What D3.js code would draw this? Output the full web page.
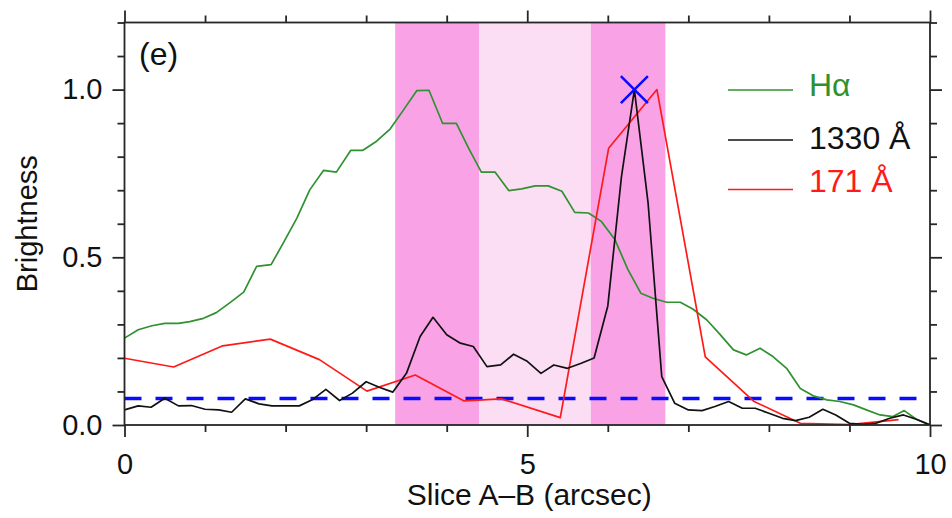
<!DOCTYPE html>
<html>
<head>
<meta charset="utf-8">
<script src="https://cdn.jsdelivr.net/npm/d3@7"></script>
<style>
  html, body { margin: 0; padding: 0; background: #fff; }
  svg { display: block; }
  text { font-family: "Liberation Sans", Arial, Helvetica, sans-serif; }
</style>
</head>
<body>
<svg id="chart" width="952" height="518"></svg>
<script>
// ---------------- data ----------------
const haX = [0.0, 0.17, 0.34, 0.50, 0.67, 0.81, 0.98, 1.14, 1.31, 1.48, 1.64, 1.82, 1.97, 2.14, 2.30, 2.47,
  2.63, 2.81, 2.96, 3.13, 3.30, 3.46, 3.63, 3.78, 3.95, 4.12, 4.27, 4.43, 4.60, 4.77, 4.93, 5.10,
  5.26, 5.43, 5.59, 5.76, 5.92, 6.09, 6.25, 6.41, 6.56, 6.73, 6.90, 7.06, 7.23, 7.39, 7.56, 7.72,
  7.89, 8.05, 8.22, 8.39, 8.55, 8.72, 8.88, 9.05, 9.21, 9.38, 9.54, 9.68, 9.83, 10.0];
const haY = [0.259, 0.284, 0.296, 0.303, 0.303, 0.308, 0.318, 0.335, 0.365, 0.396, 0.473, 0.478, 0.542, 0.617, 0.701, 0.759,
  0.754, 0.819, 0.819, 0.846, 0.883, 0.938, 0.997, 0.998, 0.899, 0.899, 0.826, 0.754, 0.754, 0.699, 0.704, 0.713,
  0.713, 0.697, 0.634, 0.632, 0.607, 0.552, 0.463, 0.393, 0.378, 0.366, 0.366, 0.345, 0.313, 0.271, 0.224, 0.209,
  0.229, 0.204, 0.169, 0.109, 0.087, 0.075, 0.070, 0.060, 0.045, 0.030, 0.025, 0.043, 0.017, 0.0];

const uvX = [0.0, 0.17, 0.33, 0.50, 0.67, 0.83, 1.00, 1.17, 1.33, 1.50, 1.67, 1.83, 2.00, 2.17, 2.33, 2.50,
  2.67, 2.83, 3.00, 3.17, 3.33, 3.50, 3.67, 3.83, 4.00, 4.17, 4.33, 4.50, 4.67, 4.83, 5.00, 5.17,
  5.33, 5.50, 5.67, 5.83, 6.00, 6.17, 6.33, 6.50, 6.67, 6.83, 7.00, 7.17, 7.33, 7.50, 7.67, 7.83,
  8.00, 8.17, 8.33, 8.50, 8.67, 8.83, 9.00, 9.17, 9.33, 9.50, 9.67, 9.83, 10.0];
const uvY = [0.045, 0.057, 0.053, 0.080, 0.057, 0.058, 0.047, 0.045, 0.038, 0.078, 0.063, 0.057, 0.057, 0.057, 0.075, 0.106,
  0.073, 0.095, 0.129, 0.112, 0.098, 0.154, 0.264, 0.321, 0.269, 0.244, 0.234, 0.174, 0.179, 0.211, 0.190, 0.154,
  0.179, 0.169, 0.184, 0.200, 0.355, 0.741, 1.000, 0.662, 0.144, 0.065, 0.045, 0.043, 0.055, 0.070, 0.050, 0.050,
  0.035, 0.020, 0.013, 0.023, 0.047, 0.030, 0.005, 0.002, 0.005, 0.020, 0.030, 0.017, 0.0];

const euvX = [0.0, 0.61, 1.22, 1.81, 2.42, 3.01, 3.61, 4.21, 4.68, 5.41, 6.01, 6.61, 7.21, 7.81, 8.39, 9.0, 9.61];
const euvY = [0.199, 0.173, 0.236, 0.256, 0.195, 0.101, 0.149, 0.072, 0.078, 0.022, 0.825, 1.0, 0.203, 0.071, 0.005, 0.001, 0.016];

const bands = [            // shaded intervals [x0, x1, kind]
  [3.36, 4.405, "dark"],
  [4.405, 5.79, "light"],
  [5.79, 6.715, "dark"]
];
const threshold = 0.079;    // dashed level
const peakMark = [6.33, 1.0];
const xMajor = [0, 5, 10];
const xMinor = [1, 2, 3, 4, 6, 7, 8, 9];
const yMajor = [0, 0.5, 1.0];
const yMinor = [0.1, 0.2, 0.3, 0.4, 0.6, 0.7, 0.8, 0.9, 1.1, 1.2];
const xTickLabels = ["0", "5", "10"];
const yTickLabels = ["0.0", "0.5", "1.0"];
const legendNames = ["H\u03b1", "1330 \u00c5", "171 \u00c5"];
const panelLabel = "(e)";
const xTitle = "Slice A\u2013B (arcsec)";
const yTitle = "Brightness";

// ---------------- layout ----------------
const colors = { ha: "#2f912f", uv: "#111111", euv: "#ff1a1a", dark: "#f9a3e6", light: "#fbdef3", blue: "#0a0aff", frame: "#262626" };
const L = 124.5, R = 930, T = 22.5, B = 425;
const svg = d3.select("#chart");
const x = d3.scaleLinear().domain([0, 10]).range([L, R]);
const y = d3.scaleLinear().domain([0, 1.2]).range([B, T]);

// bands
svg.append("g").selectAll("rect").data(bands).join("rect")
  .attr("x", d => x(d[0])).attr("width", d => x(d[1]) - x(d[0]))
  .attr("y", y(1.2)).attr("height", y(0) - y(1.2))
  .attr("fill", d => d[2] === "dark" ? colors.dark : colors.light);

// clip
svg.append("clipPath").attr("id", "clip").append("rect")
  .attr("x", L).attr("y", T).attr("width", R - L).attr("height", B - T);
const plot = svg.append("g").attr("clip-path", "url(#clip)");

const line = d3.line().x(d => x(d[0])).y(d => y(d[1]));
const series = [
  { xs: haX, ys: haY, c: colors.ha },
  { xs: euvX, ys: euvY, c: colors.euv },
  { xs: uvX, ys: uvY, c: colors.uv }
];
// dashed threshold
plot.append("line").attr("x1", x(0)).attr("x2", x(10)).attr("y1", y(threshold)).attr("y2", y(threshold))
  .attr("stroke", colors.blue).attr("stroke-width", 3.5).attr("stroke-dasharray", "17,14");

series.forEach(s => {
  plot.append("path").datum(s.xs.map((v, i) => [v, s.ys[i]]))
    .attr("d", line).attr("fill", "none").attr("stroke", s.c)
    .attr("stroke-width", 1.7).attr("stroke-linejoin", "round");
});

// X marker
const mx = x(peakMark[0]), my = y(peakMark[1]), ms = 13.5;
svg.append("path").attr("d", `M${mx - ms},${my - ms}L${mx + ms},${my + ms}M${mx - ms},${my + ms}L${mx + ms},${my - ms}`)
  .attr("stroke", colors.blue).attr("stroke-width", 2.5).attr("fill", "none");

// axes
function styleAxis(g) {
  g.select(".domain").remove();
  g.selectAll("line").attr("stroke", colors.frame).attr("stroke-width", 1.8);
  g.selectAll("text").attr("fill", "#111").style("font-size", "29px")
    .style("font-family", '"Liberation Sans", Arial, Helvetica, sans-serif');
}
const fmtX = (d) => xTickLabels[xMajor.indexOf(d)];
const fmtY = (d) => yTickLabels[yMajor.indexOf(d)];

svg.append("g").attr("transform", `translate(0,${B})`)
  .call(d3.axisBottom(x).tickValues(xMajor).tickSize(12).tickPadding(16).tickFormat(fmtX)).call(styleAxis);
svg.append("g").attr("transform", `translate(0,${B})`)
  .call(d3.axisBottom(x).tickValues(xMinor).tickSize(7).tickFormat("")).call(styleAxis);
svg.append("g").attr("transform", `translate(0,${T})`)
  .call(d3.axisTop(x).tickValues(xMajor).tickSize(12).tickFormat("")).call(styleAxis);
svg.append("g").attr("transform", `translate(0,${T})`)
  .call(d3.axisTop(x).tickValues(xMinor).tickSize(7).tickFormat("")).call(styleAxis);

svg.append("g").attr("transform", `translate(${L},0)`)
  .call(d3.axisLeft(y).tickValues(yMajor).tickSize(12).tickPadding(10).tickFormat(fmtY)).call(styleAxis);
svg.append("g").attr("transform", `translate(${L},0)`)
  .call(d3.axisLeft(y).tickValues(yMinor).tickSize(7).tickFormat("")).call(styleAxis);
svg.append("g").attr("transform", `translate(${R},0)`)
  .call(d3.axisRight(y).tickValues(yMajor).tickSize(12).tickFormat("")).call(styleAxis);
svg.append("g").attr("transform", `translate(${R},0)`)
  .call(d3.axisRight(y).tickValues(yMinor).tickSize(7).tickFormat("")).call(styleAxis);

// frame
svg.append("rect").attr("x", L).attr("y", T).attr("width", R - L).attr("height", B - T)
  .attr("fill", "none").attr("stroke", colors.frame).attr("stroke-width", 1.8);

// titles
svg.append("text").attr("x", (L + R) / 2 + 2).attr("y", 505).attr("text-anchor", "middle")
  .style("font-size", "30px").attr("fill", "#111").text(xTitle);
svg.append("text").attr("transform", `translate(37,${(T + B) / 2}) rotate(-90)`).attr("text-anchor", "middle")
  .style("font-size", "29px").attr("fill", "#111").text(yTitle);
svg.append("text").attr("x", 139).attr("y", 65).style("font-size", "32px").attr("fill", "#111").text(panelLabel);

// legend
const legY = [90, 140, 189.5];
const legTextY = [96, 148.5, 192];
const legColors = [colors.ha, colors.uv, colors.euv];
legendNames.forEach((n, i) => {
  svg.append("line").attr("x1", 728).attr("x2", 793).attr("y1", legY[i]).attr("y2", legY[i])
    .attr("stroke", legColors[i]).attr("stroke-width", 1.7);
  svg.append("text").attr("x", 809).attr("y", legTextY[i]).style("font-size", "32px")
    .attr("fill", legColors[i] === colors.uv ? "#111" : legColors[i]).text(n);
});
</script>
</body>
</html>
